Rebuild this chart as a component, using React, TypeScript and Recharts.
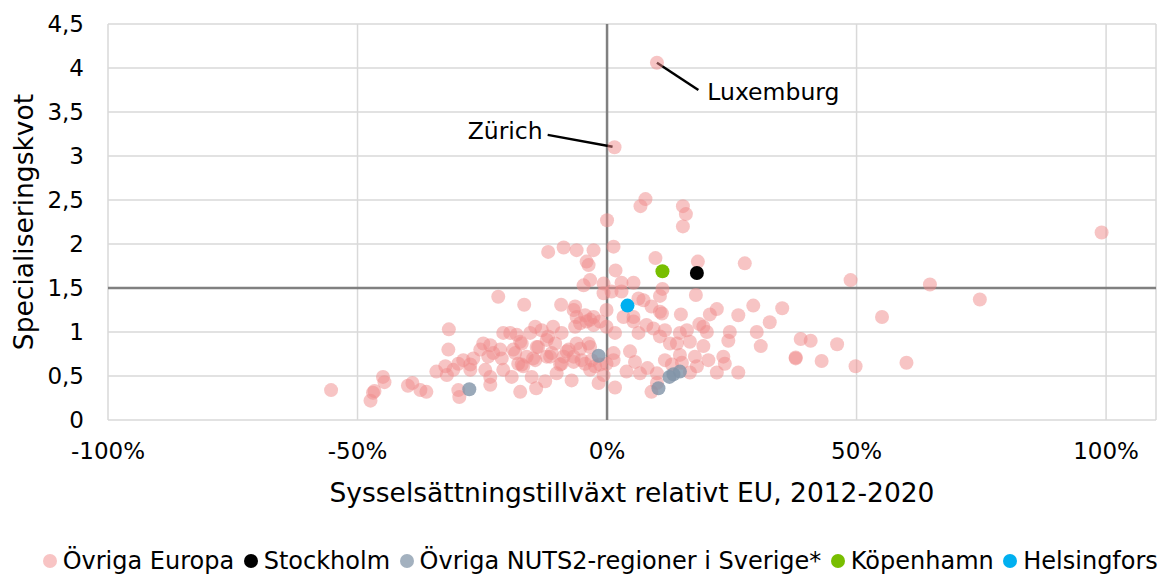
import { ScatterChart, Scatter, XAxis, YAxis, CartesianGrid, ReferenceLine } from 'recharts'

type Pt = [number, number]

// x = sysselsättningstillväxt relativt EU (%), y = specialiseringskvot
const xTicks = [-100, -50, 0, 50, 100]
const yTicks = [0, 0.5, 1, 1.5, 2, 2.5, 3, 3.5, 4, 4.5]

const ovrigaEuropa: Pt[] = [
  // långt till vänster
  [-55.3, 0.34], [-47.4, 0.22], [-46.9, 0.31], [-46.6, 0.33], [-44.9, 0.49], [-44.6, 0.43],
  [-39.9, 0.39], [-39.0, 0.42], [-37.4, 0.34], [-36.2, 0.32], [-34.2, 0.55], [-32.4, 0.61],
  [-32.1, 0.51], [-31.7, 1.03], [-31.8, 0.8], [-30.8, 0.57], [-29.8, 0.64], [-29.8, 0.34],
  [-29.6, 0.26],
  // -30 .. -10
  [-28.8, 0.68], [-27.4, 0.63], [-26.8, 0.7], [-27.4, 0.57], [-24.8, 0.87], [-24.4, 0.57],
  [-23.4, 0.85], [-23.4, 0.49], [-23.4, 0.4], [-22.8, 0.76], [-21.8, 1.4], [-21.1, 0.7],
  [-20.8, 0.99], [-20.8, 0.57], [-19.4, 0.99], [-19.1, 0.49], [-18.4, 0.76], [-18.1, 0.97],
  [-17.8, 0.64], [-17.4, 0.32], [-17.1, 0.87], [-16.8, 0.61], [-16.6, 1.31], [-16.1, 0.72],
  [-15.4, 0.99], [-15.1, 0.49], [-14.4, 1.06], [-14.4, 0.68], [-14.2, 0.36], [-13.8, 0.83],
  [-13.1, 1.02], [-12.4, 0.44], [-11.8, 1.91], [-11.8, 0.95], [-11.4, 0.72], [-10.8, 1.06],
  [-10.4, 0.87], [-10.1, 0.53], [-17.4, 0.89], [-18.8, 0.8], [-21.4, 0.8], [-23.8, 0.72],
  [-25.4, 0.8], [-17.1, 0.63], [-14.8, 0.7], [-14.1, 0.83], [-12.1, 0.72], [-12.1, 0.91],
  [-11.1, 0.76],
  // -10 .. 0
  [-9.4, 0.63], [-9.2, 1.31], [-9.1, 0.99], [-8.7, 1.96], [-8.1, 0.78], [-7.1, 0.45],
  [-6.7, 0.66], [-6.4, 1.29], [-6.4, 1.06], [-6.1, 0.87], [-6.1, 1.93], [-6.1, 1.17],
  [-5.1, 0.68], [-4.7, 1.53], [-4.1, 1.8], [-3.7, 1.76], [-3.7, 0.87], [-3.4, 1.59],
  [-3.4, 1.14], [-3.4, 0.57], [-2.7, 1.93], [-2.7, 1.17], [-2.7, 1.08], [-2.4, 0.61],
  [-1.7, 0.42], [-0.7, 1.55], [-0.7, 1.44], [-0.1, 1.25], [0.0, 2.27], [-0.1, 1.06],
  [-0.1, 0.64], [-4.4, 1.19], [-5.4, 1.1], [-4.1, 1.12], [-1.4, 1.12], [-6.7, 1.25],
  [-6.7, 0.72], [-7.7, 0.8], [-8.7, 0.72], [-9.1, 0.64], [-5.4, 0.81], [-4.4, 0.64],
  [-3.1, 0.68], [-1.4, 0.63], [-0.7, 0.51], [-3.4, 0.83],
  // Zürich, Luxemburg och övre gruppen
  [1.5, 3.1], [10.0, 4.06], [6.7, 2.43], [7.7, 2.51], [15.2, 2.43], [15.8, 2.34], [15.2, 2.2],
  [1.3, 1.97],
  // 0 .. 30
  [9.7, 1.84], [18.2, 1.8], [27.6, 1.78], [1.7, 1.7], [2.9, 1.56], [5.3, 1.56], [11.1, 1.49],
  [10.6, 1.41], [17.8, 1.42], [0.9, 1.46], [2.9, 1.46], [6.3, 1.38], [7.3, 1.36], [8.9, 1.29],
  [10.6, 1.23], [11.0, 1.21], [14.8, 1.2], [20.6, 1.2], [22.0, 1.26], [26.3, 1.19], [29.3, 1.3],
  [3.3, 1.17], [5.3, 1.17], [5.3, 1.12], [1.6, 0.99], [6.3, 0.99], [7.9, 1.08], [9.3, 1.04],
  [11.6, 1.02], [14.6, 0.99], [16.0, 1.02], [18.5, 1.09], [19.3, 1.06], [20.0, 1.0], [24.6, 1.0],
  [30.0, 1.0], [10.6, 0.95], [12.6, 0.87], [14.0, 0.87], [16.6, 0.89], [19.3, 0.84], [24.3, 0.9],
  [30.8, 0.84], [4.6, 0.78], [1.3, 0.76], [1.3, 0.68], [5.6, 0.66], [11.6, 0.68], [14.6, 0.74],
  [17.6, 0.72], [20.3, 0.68], [23.3, 0.72], [23.6, 0.64], [13.0, 0.63], [15.0, 0.65], [18.0, 0.61],
  [3.9, 0.55], [6.6, 0.53], [8.1, 0.59], [10.0, 0.53], [16.6, 0.54], [22.0, 0.54], [26.3, 0.54],
  [1.6, 0.37], [8.9, 0.32], [10.0, 0.42],
  // till höger
  [48.8, 1.59], [35.1, 1.27], [32.6, 1.11], [38.8, 0.92], [40.8, 0.9], [46.1, 0.86], [37.8, 0.7],
  [37.8, 0.71], [43.0, 0.67], [49.8, 0.61], [55.1, 1.17], [60.0, 0.65], [64.7, 1.54], [74.7, 1.37],
  [99.1, 2.13],
]

const ovrigaSverige: Pt[] = [
  [-27.6, 0.35], [-1.7, 0.73], [10.3, 0.36], [12.5, 0.49], [13.3, 0.52], [14.6, 0.55],
]
const stockholm: Pt[] = [[18.0, 1.67]]
const kopenhamn: Pt[] = [[11.1, 1.69]]
const helsingfors: Pt[] = [[4.1, 1.3]]

const SERIES = [
  { name: 'Övriga Europa', points: ovrigaEuropa, fill: '#F08A8A', opacity: 0.5, legend: '#F8C4C4' },
  { name: 'Stockholm', points: stockholm, fill: '#000000', opacity: 1, legend: '#000000' },
  { name: 'Övriga NUTS2-regioner i Sverige*', points: ovrigaSverige, fill: '#8194A8', opacity: 0.8, legend: '#A3B1BF' },
  { name: 'Köpenhamn', points: kopenhamn, fill: '#78BE00', opacity: 1, legend: '#78BE00' },
  { name: 'Helsingfors', points: helsingfors, fill: '#00B0F0', opacity: 1, legend: '#00B0F0' },
]

// ritordning: rosa längst ner, sedan grå och de enskilda städerna
const DRAW_ORDER = [0, 2, 1, 3, 4]

const fmtPct = (v: number) => `${v}%`
const fmtKvot = (v: number) => String(v).replace('.', ',')

function YTitle({ viewBox }: any) {
  const x = (viewBox?.x ?? 0) + 33
  const y = (viewBox?.y ?? 0) + (viewBox?.height ?? 0) / 2
  return (
    <text x={x} y={y} transform={`rotate(-90, ${x}, ${y})`} textAnchor="middle" fontSize={26.5} fill="#000">
      Specialiseringskvot
    </text>
  )
}

function LuxLabel({ viewBox }: any) {
  return (
    <text x={viewBox.x + viewBox.width + 9} y={viewBox.y + viewBox.height + 10} fontSize={23.5} fill="#000">
      Luxemburg
    </text>
  )
}

function ZurLabel({ viewBox }: any) {
  return (
    <text x={viewBox.x - 5} y={viewBox.y + 4} textAnchor="end" fontSize={23.5} fill="#000">
      Zürich
    </text>
  )
}

export default function App() {
  return (
    <div style={{ position: 'relative', width: 1162, height: 574, fontFamily: '"DejaVu Sans", Verdana, sans-serif' }}>
      <style>{'body{margin:0}'}</style>
      <ScatterChart width={1162} height={520} margin={{ top: 24, right: 6, bottom: 18, left: 0 }}>
        <CartesianGrid stroke="#d9d9d9" strokeWidth={1.5} />
        <XAxis
          type="number"
          dataKey="x"
          domain={[-100, 110]}
          ticks={xTicks}
          interval={0}
          tickFormatter={fmtPct}
          axisLine={false}
          tickLine={false}
          tickSize={0}
          tickMargin={23}
          height={82}
          tick={{ fontSize: 23, fill: '#000' }}
          label={{ value: 'Sysselsättningstillväxt relativt EU, 2012-2020', position: 'insideBottom', offset: 0, fontSize: 26.5, fill: '#000' }}
        />
        <YAxis
          type="number"
          dataKey="y"
          domain={[0, 4.5]}
          ticks={yTicks}
          interval={0}
          tickFormatter={fmtKvot}
          axisLine={false}
          tickLine={false}
          tickSize={0}
          tickMargin={24}
          width={108}
          tick={{ fontSize: 23, fill: '#000' }}
          label={<YTitle />}
        />
        <ReferenceLine x={0} stroke="#808080" strokeWidth={2.5} />
        <ReferenceLine y={1.5} stroke="#808080" strokeWidth={2.5} />
        {DRAW_ORDER.map((i) => {
          const s = SERIES[i]
          return (
            <Scatter
              key={s.name}
              name={s.name}
              data={s.points.map(([x, y]) => ({ x, y }))}
              isAnimationActive={false}
              shape={(p: any) => <circle cx={p.cx} cy={p.cy} r={7} fill={s.fill} fillOpacity={s.opacity} />}
            />
          )
        })}
        <ReferenceLine
          segment={[{ x: 10.0, y: 4.06 }, { x: 18.3, y: 3.75 }]}
          stroke="#000"
          strokeWidth={2.5}
          label={LuxLabel}
        />
        <ReferenceLine
          segment={[{ x: -11.9, y: 3.24 }, { x: 1.1, y: 3.106 }]}
          stroke="#000"
          strokeWidth={2.5}
          label={ZurLabel}
        />
      </ScatterChart>
      <div
        style={{
          position: 'absolute',
          top: 548,
          left: 0,
          width: 1162,
          paddingLeft: 48,
          boxSizing: 'border-box',
          display: 'flex',
          justifyContent: 'center',
          fontSize: 24,
          lineHeight: '26px',
          color: '#000',
          whiteSpace: 'nowrap',
        }}
      >
        {SERIES.map((s) => (
          <div key={s.name} style={{ display: 'flex', alignItems: 'center', marginRight: 9.5 }}>
            <span style={{ width: 14, height: 14, borderRadius: 7, background: s.legend, marginRight: 6, display: 'inline-block' }} />
            <span>{s.name}</span>
          </div>
        ))}
      </div>
    </div>
  )
}
